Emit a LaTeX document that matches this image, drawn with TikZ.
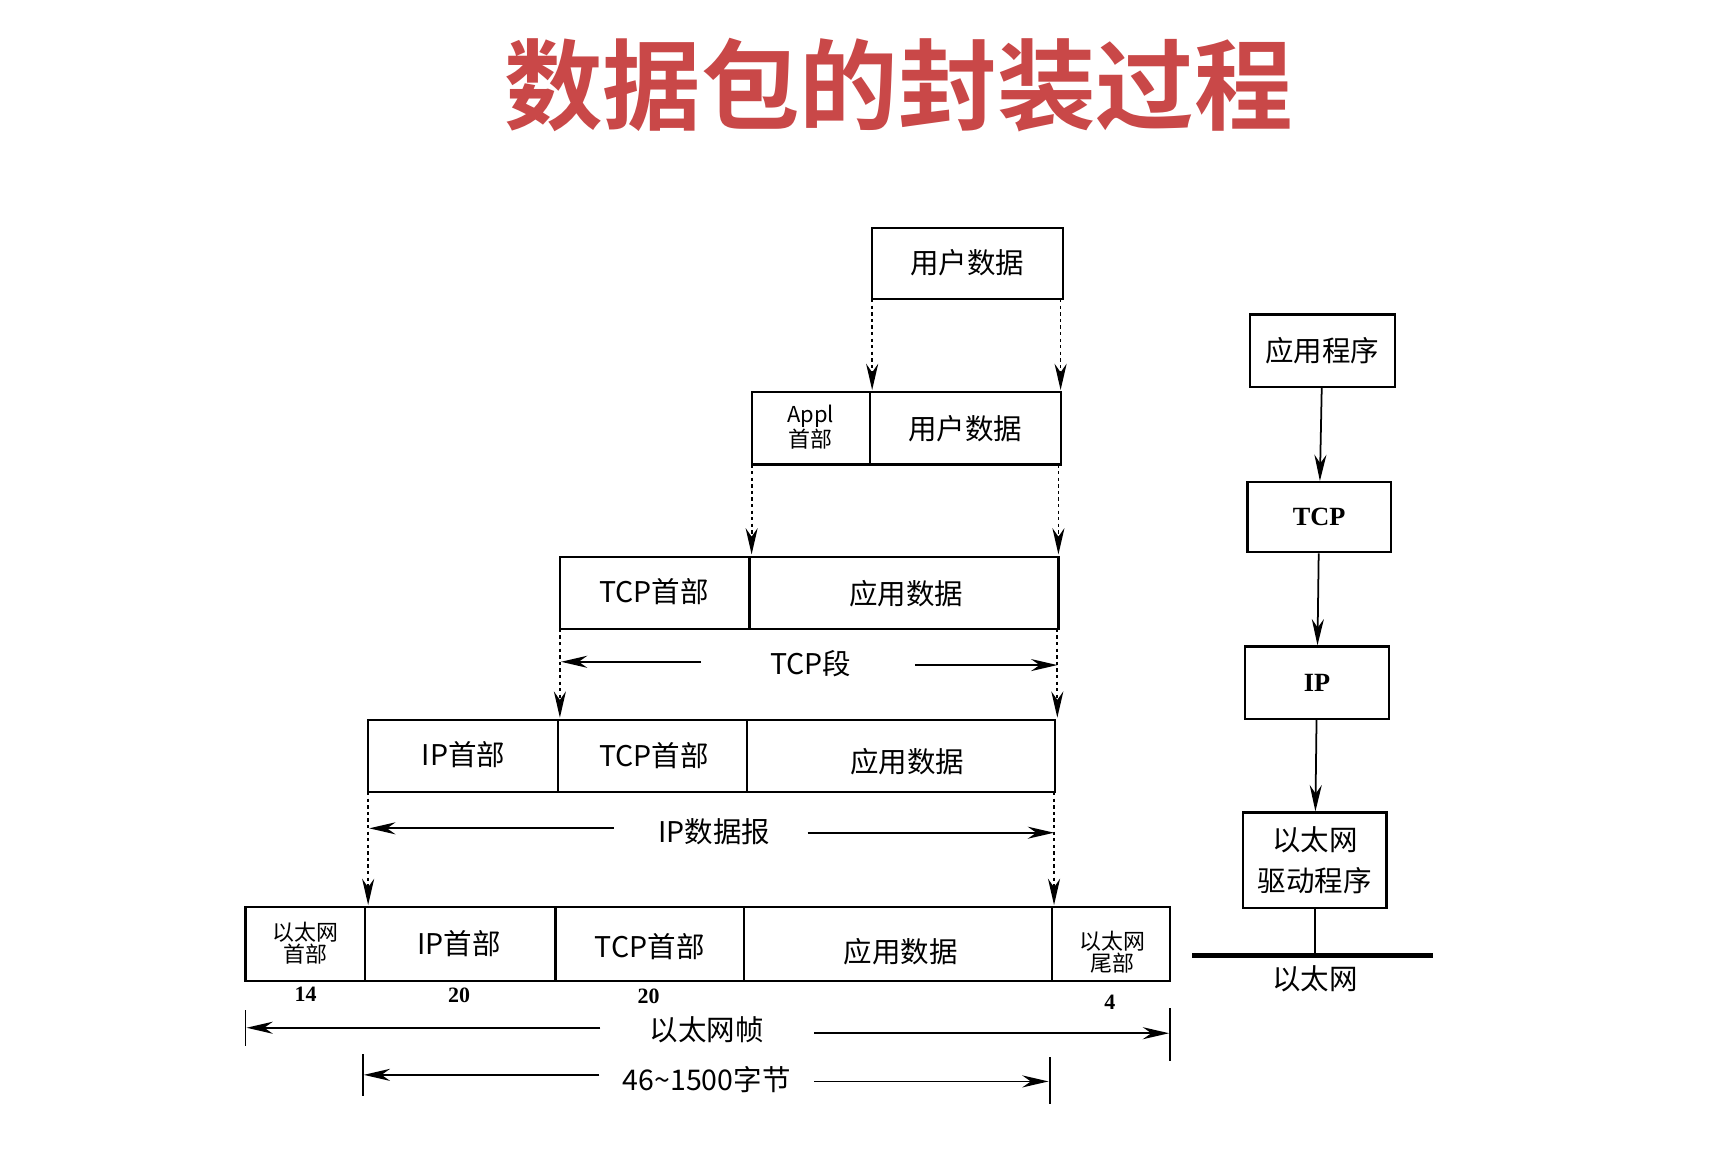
\documentclass[tikz,border=0pt]{standalone}
\usepackage{fontspec}
\setmainfont{Liberation Serif}
\newfontfamily\cjk{Noto Sans CJK SC}
\newfontfamily\cjkb{Noto Sans CJK SC Bold}
\usetikzlibrary{arrows.meta}
\definecolor{titlered}{HTML}{C94848}
\begin{document}
\begin{tikzpicture}[x=1pt,y=-1pt,
  bx/.style={draw,line width=2pt},
  lbl/.style={font=\cjk\fontsize{26}{28}\selectfont,inner sep=0},
  sm/.style={font=\cjk\fontsize{20}{20}\selectfont,inner sep=0,align=center},
  num/.style={font=\bfseries\fontsize{20}{20}\selectfont,inner sep=0},
  dsh/.style={dashed,line width=1.6pt,-{Stealth[length=24pt,width=11pt]}},
  sol/.style={line width=1.6pt,-{Stealth[length=24pt,width=11pt]}}]
\useasboundingbox[fill=white] (0,0) rectangle (1568,1057);
\node[font=\cjkb\fontsize{90}{90}\selectfont,text=titlered] (title) at (820,78) {数据包的封装过程};
% row 1
\draw[bx] (796,208) rectangle (970,273);
\node[lbl] (u1) at (883,240) {用户数据};
% row 2
\draw[bx] (686,358) rectangle (968,424); \draw[bx] (794,358)--(794,424);
\node[sm] (a2) at (740,390) {Appl\\首部};
\node[lbl] (u2) at (881,391) {用户数据};
% row 3
\draw[bx] (511,508) rectangle (966,574); \draw[bx] (684,508)--(684,574);
\node[lbl] (t3) at (597,540) {TCP首部};
\node[lbl] (d3) at (827,542) {应用数据};
% row 4
\draw[bx] (336,657) rectangle (963,723); \draw[bx] (509,657)--(509,723); \draw[bx] (682,657)--(682,723);
\node[lbl] (i4) at (423,689) {IP首部};
\node[lbl] (t4) at (597,690) {TCP首部};
\node[lbl] (d4) at (828,695) {应用数据};
% row 5
\draw[bx] (224,828) rectangle (1068,895);
\foreach \x in {333,507,679,960} \draw[bx] (\x,828)--(\x,895);
\node[sm] (e5) at (279,861) {以太网\\首部};
\node[lbl] (i5) at (419,861) {IP首部};
\node[lbl] (t5) at (593,864) {TCP首部};
\node[lbl] (d5) at (822,869) {应用数据};
\node[sm] (f5) at (1015,869) {以太网\\尾部};
\node[num] at (279,907) {14};
\node[num] at (419,908) {20};
\node[num] at (592,909) {20};
\node[num] at (1013,915) {4};
% dashed arrows
\draw[dsh] (796,273)--(796,356);
\draw[dsh] (968,273)--(968,356);
\draw[dsh] (686,424)--(686,506);
\draw[dsh] (966,424)--(966,506);
\draw[dsh] (511,574)--(511,655);
\draw[dsh] (965,574)--(965,655);
\draw[dsh] (336,723)--(336,826);
\draw[dsh] (962,723)--(962,826);
% dimension lines
\node[lbl] (tcps) at (740,606) {TCP段};
\draw[sol] (640,604)--(512,604); \draw[sol] (835,607)--(965,607);
\node[lbl] (ipd) at (652,759) {IP数据报};
\draw[sol] (560,756)--(337,756); \draw[sol] (737,760)--(962,760);
\node[lbl] (ef) at (645,940) {以太网帧};
\draw[sol] (548,938)--(225,938); \draw[sol] (743,943)--(1067,943);
\draw[line width=1.6pt] (224,922)--(224,955); \draw[line width=1.6pt] (1068,920)--(1068,968);
\node[lbl] (by) at (645,985) {46\textasciitilde1500字节};
\draw[sol] (547,981)--(332,981); \draw[sol] (743,987)--(957,987);
\draw[line width=1.6pt] (331,962)--(331,1000); \draw[line width=1.6pt] (958,965)--(958,1008);
% right column
\node[bx,lbl,minimum width=132pt,minimum height=66pt] (app) at (1207,320) {应用程序};
\node[bx,minimum width=131pt,minimum height=64pt,font=\bfseries\fontsize{24}{24}\selectfont] (tcp) at (1204,472) {TCP};
\node[bx,minimum width=131pt,minimum height=66pt,font=\bfseries\fontsize{24}{24}\selectfont] (ip) at (1202,623) {IP};
\node[bx,lbl,align=center,minimum width=131pt,minimum height=87pt,font=\cjk\fontsize{26}{38}\selectfont] (eth) at (1200,785) {以太网\\驱动程序};
\draw[sol] (app)--(tcp); \draw[sol] (tcp)--(ip); \draw[sol] (ip)--(eth);
\coordinate (bus) at (1200,872);
\draw[line width=1.6pt] (eth)--(bus);
\draw[line width=5pt] (1088,872)--(1308,872);
\node[lbl] (bl) at (1200,893) {以太网};
\end{tikzpicture}
\end{document}
